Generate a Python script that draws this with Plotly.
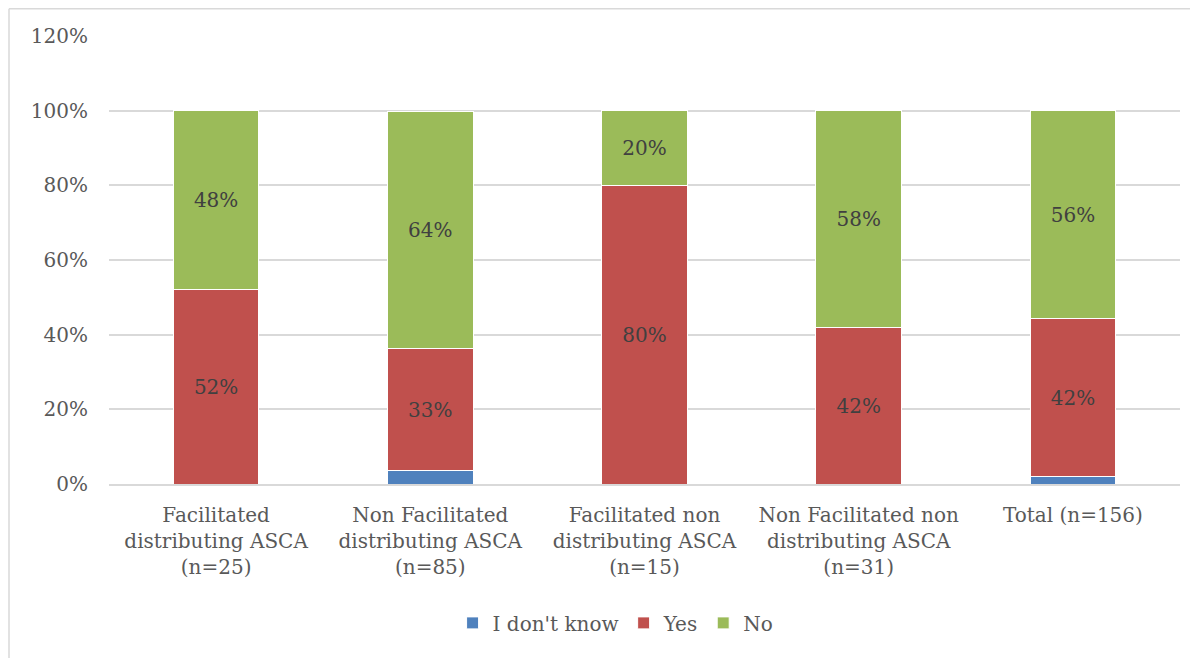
import plotly.graph_objects as go

categories = [
    "Facilitated<br>distributing ASCA<br>(n=25)",
    "Non Facilitated<br>distributing ASCA<br>(n=85)",
    "Facilitated non<br>distributing ASCA<br>(n=15)",
    "Non Facilitated non<br>distributing ASCA<br>(n=31)",
    "Total (n=156)",
]
# percentages per group
dont_know = [0, 3.5, 0, 0, 1.9]
yes = [52.0, 32.9, 80.0, 41.9, 42.3]
no = [48.0, 63.5, 20.0, 58.1, 55.8]
y_ticks = [0, 20, 40, 60, 80, 100, 120]

FONT = "DejaVu Serif"
W, H = 1198, 658
# the page body adds an 8px offset, so margins are shifted accordingly
L, R, T, B = 101, 26, 28, 182

fig = go.Figure()
fig.add_trace(go.Bar(x=categories, y=dont_know, name="I don't know",
                     marker=dict(color="#4F81BD", line=dict(color="white", width=1))))
fig.add_trace(go.Bar(x=categories, y=yes, name="Yes",
                     marker=dict(color="#C0504D", line=dict(color="white", width=1)),
                     text=[f"{v:.0f}%" for v in yes], textposition="inside",
                     insidetextanchor="middle",
                     textfont=dict(family=FONT, size=20, color="#404040")))
fig.add_trace(go.Bar(x=categories, y=no, name="No",
                     marker=dict(color="#9BBB59", line=dict(color="white", width=1)),
                     text=[f"{v:.0f}%" for v in no], textposition="inside",
                     insidetextanchor="middle",
                     textfont=dict(family=FONT, size=20, color="#404040")))

pw = W - L - R
ph = H - T - B
top_y = (H - B - 0.75) / ph
left_x = (1 - L) / pw
# outer chart frame (top and left edges visible)
fig.add_shape(type="line", xref="paper", yref="paper",
              x0=left_x, x1=1.05, y0=top_y, y1=top_y,
              line=dict(color="#D9D9D9", width=1.5))
fig.add_shape(type="line", xref="paper", yref="paper",
              x0=left_x, x1=left_x, y0=top_y, y1=-0.5,
              line=dict(color="#D9D9D9", width=1.5))

fig.update_layout(
    width=W, height=H,
    barmode="stack", bargap=0.6,
    plot_bgcolor="white", paper_bgcolor="white",
    margin=dict(l=L, r=R, t=T, b=B),
    font=dict(family=FONT, size=20, color="#595959"),
    uniformtext=dict(minsize=20, mode="show"),
    legend=dict(orientation="h", x=0.473, xanchor="center", y=-0.31, yanchor="middle",
                font=dict(family=FONT, size=20, color="#595959"), traceorder="normal",
                itemwidth=30),
    xaxis=dict(showline=True, linecolor="#D9D9D9", linewidth=2, ticks="",
               tickfont=dict(family=FONT, size=20, color="#595959"),
               ticklabelstandoff=12),
    yaxis=dict(range=[0, 120], tickvals=y_ticks, ticktext=[f"{v}%" for v in y_ticks],
               showgrid=True, gridcolor="#D9D9D9", gridwidth=1.5,
               zeroline=False, showline=False,
               tickfont=dict(family=FONT, size=20, color="#595959"),
               ticklabelstandoff=20),
)

fig.write_html("out.html")
